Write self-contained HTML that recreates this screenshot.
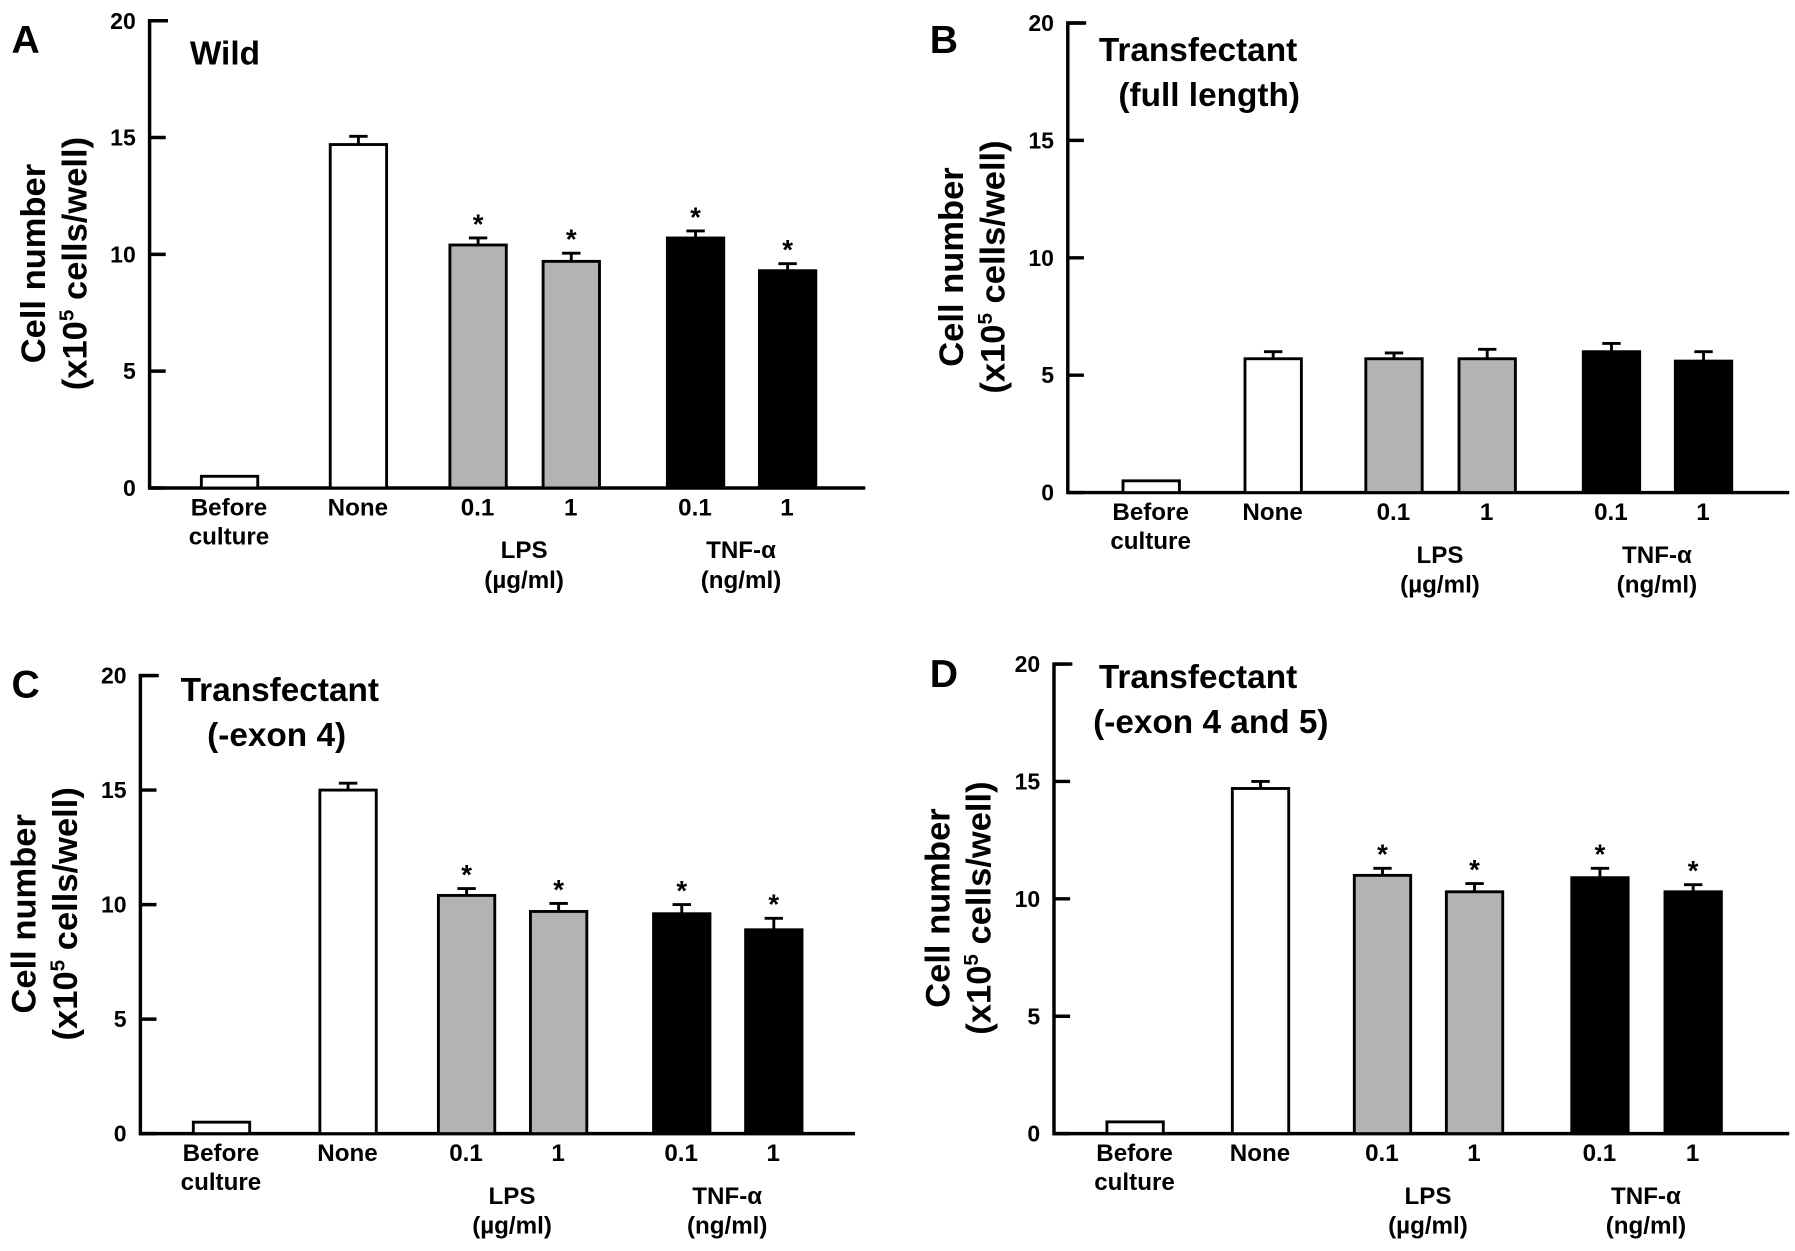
<!DOCTYPE html>
<html><head><meta charset="utf-8"><style>
html,body{margin:0;padding:0;background:#fff;}
svg{display:block;font-family:"Liberation Sans",Arial,sans-serif;font-weight:bold;}
</style></head><body>
<svg id="fig" width="1795" height="1251" viewBox="0 0 1560 1087" preserveAspectRatio="none" xmlns="http://www.w3.org/2000/svg"></svg>
<script>
const categories = ["Before culture","None","LPS 0.1","LPS 1","TNF 0.1","TNF 1"];
const fills = ["#fff","#fff","#b3b3b3","#b3b3b3","#000","#000"];
const yTicks = [0,5,10,15,20];
const valuesA = [0.5,14.7,10.4,9.7,10.7,9.3];
const errorsA = [0,0.35,0.3,0.35,0.3,0.3];
const starsA = [false,false,true,true,true,true];
const valuesB = [0.5,5.7,5.7,5.7,6.0,5.6];
const errorsB = [0,0.3,0.25,0.4,0.35,0.4];
const starsB = [false,false,false,false,false,false];
const valuesC = [0.5,15.0,10.4,9.7,9.6,8.9];
const errorsC = [0,0.3,0.3,0.35,0.4,0.5];
const starsC = [false,false,true,true,true,true];
const valuesD = [0.5,14.7,11.0,10.3,10.9,10.3];
const errorsD = [0,0.3,0.3,0.35,0.4,0.3];
const starsD = [false,false,true,true,true,true];

const NS="http://www.w3.org/2000/svg";
const svg=document.getElementById('fig');
function mk(tag,attrs,parent){const e=document.createElementNS(NS,tag);for(const k in attrs)e.setAttribute(k,attrs[k]);(parent||svg).appendChild(e);return e;}
function txt(s,x,y,size,anchor,parent,name){const t=mk('text',{x:x,y:y,'font-size':size,'text-anchor':anchor||'middle'},parent);t.textContent=s;


return t;}

function panel(p){
  const g=mk('g',{});
  
  
  const y=v=>p.y0-(p.y0-p.y20)*v/20;
  const ax=mk('path',{d:`M${p.ax+16},${p.y20} H${p.ax} V${p.y0} H${p.axEnd}`,stroke:'#000','stroke-width':3,fill:'none'},g);
  
  
  yTicks.forEach(t=>{
    const l=mk('line',{x1:p.ax,x2:p.ax+14,y1:y(t),y2:y(t),stroke:'#000','stroke-width':3},g);
    
    
    txt(String(t),p.ax-12,y(t)+7,20,'end',g,'y-tick-label');
  });
  p.values.forEach((v,i)=>{
    const x0=p.bx[i], w=49;
    const top=y(v);
    if(p.errors[i]>0){
      const e=y(v+p.errors[i]);
      const el=mk('path',{d:`M${x0+w/2},${top} V${e} M${x0+w/2-8},${e} H${x0+w/2+8}`,stroke:'#000','stroke-width':2.5,fill:'none'},g);
      
      
    }
    const r=mk('rect',{x:x0,y:top,width:w,height:p.y0-top,fill:fills[i],stroke:'#000','stroke-width':2.5},g);
    
    
    if(p.stars[i]) txt('*',x0+w/2,y(v+p.errors[i])-4,24,'middle',g,'significance-star');
  });
  const ly=p.y0+24;
  const c=i=>p.bx[i]+24;
  txt('Before',c(0),ly,21,'middle',g,'x-label-before');
  txt('culture',c(0),ly+25,21,'middle',g,'x-label-culture');
  txt('None',c(1),ly,21,'middle',g,'x-label-none');
  txt('0.1',c(2),ly,21,'middle',g,'x-label-lps-01');
  txt('1',c(3),ly,21,'middle',g,'x-label-lps-1');
  txt('0.1',c(4),ly,21,'middle',g,'x-label-tnf-01');
  txt('1',c(5),ly,21,'middle',g,'x-label-tnf-1');
  const lpsx=(c(2)+c(3))/2, tnfx=(c(4)+c(5))/2;
  txt('LPS',lpsx,ly+37,21,'middle',g,'lps-label');
  txt('(µg/ml)',lpsx,ly+63,21,'middle',g,'lps-unit');
  txt('TNF-α',tnfx,ly+37,21,'middle',g,'tnf-label');
  txt('(ng/ml)',tnfx,ly+63,21,'middle',g,'tnf-unit');
  txt(p.letter,p.lx,p.ly,34,'start',g,'panel-letter');
  p.title.forEach((s,k)=>txt(s,p.tx[k],p.ty+k*39,29,'start',g,'panel-title'));
  const cy=(p.y0+p.y20)/2+8;
  const t1=mk('text',{transform:`translate(${p.ax-91},${cy}) rotate(-90)`,'font-size':30,'text-anchor':'middle'},g);
  t1.textContent='Cell number';
  
  
  const t2=mk('text',{transform:`translate(${p.ax-55},${cy}) rotate(-90)`,'font-size':30,'text-anchor':'middle'},g);
  t2.innerHTML='(x10<tspan dy="-11" font-size="18">5</tspan><tspan dy="11"> cells/well)</tspan>';
  
  
}

panel({letter:'A',lx:10,ly:46,title:['Wild'],tx:[165],ty:56,ax:130,axEnd:752,y20:18,y0:424,
  bx:[175,287,391,472,580,660],values:valuesA,errors:errorsA,stars:starsA});
panel({letter:'B',lx:808,ly:46,title:['Transfectant','(full length)'],tx:[955,972],ty:53,ax:928,axEnd:1555,y20:20,y0:428,
  bx:[976,1082,1187,1268,1376,1456],values:valuesB,errors:errorsB,stars:starsB});
panel({letter:'C',lx:10,ly:606,title:['Transfectant','(-exon 4)'],tx:[157,180],ty:609,ax:122,axEnd:743,y20:587,y0:985,
  bx:[168,278,381,461,568,648],values:valuesC,errors:errorsC,stars:starsC});
panel({letter:'D',lx:808,ly:597,title:['Transfectant','(-exon 4 and 5)'],tx:[955,950],ty:598,ax:916,axEnd:1555,y20:577,y0:985,
  bx:[962,1071,1177,1257,1366,1447],values:valuesD,errors:errorsD,stars:starsD});
</script>
</body></html>
